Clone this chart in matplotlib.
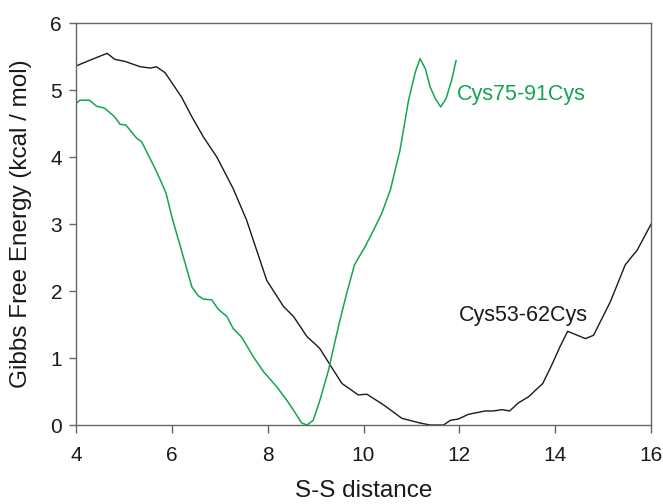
import matplotlib

matplotlib.use("Agg")

import matplotlib.pyplot as plt

# S-S distance vs free energy
cys53_x = [4.0, 4.3, 4.65, 4.81, 5.02, 5.34, 5.55, 5.68, 5.86, 6.2, 6.42, 6.66,
           6.94, 7.28, 7.56, 7.84, 7.98, 8.33, 8.54, 8.82, 9.02, 9.09, 9.3, 9.55,
           9.89, 10.07, 10.42, 10.8, 11.18, 11.39, 11.67, 11.81, 11.98, 12.19,
           12.54, 12.71, 12.89, 13.05, 13.23, 13.44, 13.74, 13.93, 14.1, 14.26,
           14.63, 14.8, 15.15, 15.46, 15.57, 15.71, 16.0]
cys53_g = [5.36, 5.45, 5.55, 5.46, 5.43, 5.35, 5.33, 5.35, 5.26, 4.9, 4.6, 4.3,
           4.0, 3.53, 3.06, 2.46, 2.16, 1.77, 1.62, 1.32, 1.19, 1.14, 0.9, 0.62,
           0.45, 0.46, 0.3, 0.1, 0.03, 0.0, 0.0, 0.07, 0.09, 0.16,
           0.21, 0.21, 0.23, 0.21, 0.33, 0.42, 0.62, 0.9, 1.17, 1.4,
           1.29, 1.34, 1.84, 2.39, 2.49, 2.61, 3.0]

cys75_x = [4.0, 4.08, 4.28, 4.43, 4.6, 4.81, 4.92, 5.04, 5.27, 5.37, 5.65, 5.79,
           5.88, 6.0, 6.2, 6.42, 6.55, 6.66, 6.83, 6.97, 7.15, 7.28, 7.46, 7.7,
           7.91, 8.19, 8.4, 8.54, 8.71, 8.82, 8.95, 9.09, 9.27, 9.37, 9.51, 9.65,
           9.81, 9.89, 10.03, 10.21, 10.38, 10.56, 10.76, 10.94, 11.08, 11.18,
           11.29, 11.39, 11.5, 11.61, 11.72, 11.84, 11.93]
cys75_g = [4.8, 4.85, 4.85, 4.76, 4.73, 4.6, 4.49, 4.48, 4.28, 4.23, 3.83, 3.61,
           3.46, 3.11, 2.61, 2.06, 1.93, 1.88, 1.87, 1.73, 1.62, 1.44, 1.31, 1.02,
           0.8, 0.57, 0.37, 0.22, 0.03, 0.0, 0.07, 0.37, 0.82, 1.14, 1.57, 1.97,
           2.39, 2.49, 2.66, 2.91, 3.16, 3.51, 4.1, 4.85, 5.27, 5.47,
           5.32, 5.05, 4.87, 4.75, 4.87, 5.15, 5.44]

x_ticks = [4, 6, 8, 10, 12, 14, 16]
y_ticks = [0, 1, 2, 3, 4, 5, 6]

GREEN = "#14a550"
SPINE = "#666666"


def main() -> None:
    plt.rcParams["font.family"] = ["Liberation Sans", "DejaVu Sans"]

    fig = plt.figure(figsize=(6.63, 5.04), dpi=100)
    ax = fig.add_axes([0.1146, 0.1567, 0.8674, 0.7973])

    ax.plot(cys53_x, cys53_g, color="#1a1a1a", lw=1.0)
    ax.plot(cys75_x, cys75_g, color=GREEN, lw=1.1)

    ax.text(12.0, 1.64, "Cys53-62Cys", color="#1a1a1a", fontsize=15.5,
            va="center", ha="left")
    ax.text(11.95, 4.93, "Cys75-91Cys", color=GREEN, fontsize=15.5,
            va="center", ha="left")

    ax.set_xlim(4, 16)
    ax.set_ylim(0, 6)
    ax.set_xticks(x_ticks)
    ax.set_yticks(y_ticks)
    ax.tick_params(axis="both", direction="out", labelsize=15, color=SPINE,
                   labelcolor="#1a1a1a", width=1.0)
    ax.tick_params(axis="x", length=6, pad=9)
    ax.tick_params(axis="y", length=5, pad=5)
    for spine in ax.spines.values():
        spine.set_color(SPINE)
        spine.set_linewidth(1.0)

    ax.set_xlabel("S-S distance", fontsize=17.5, color="#1a1a1a", labelpad=11)
    ax.set_ylabel("Gibbs Free Energy (kcal / mol)", fontsize=17.5,
                  color="#1a1a1a", labelpad=13)

    fig.savefig("out.png", dpi=100)


if __name__ == "__main__":
    main()
